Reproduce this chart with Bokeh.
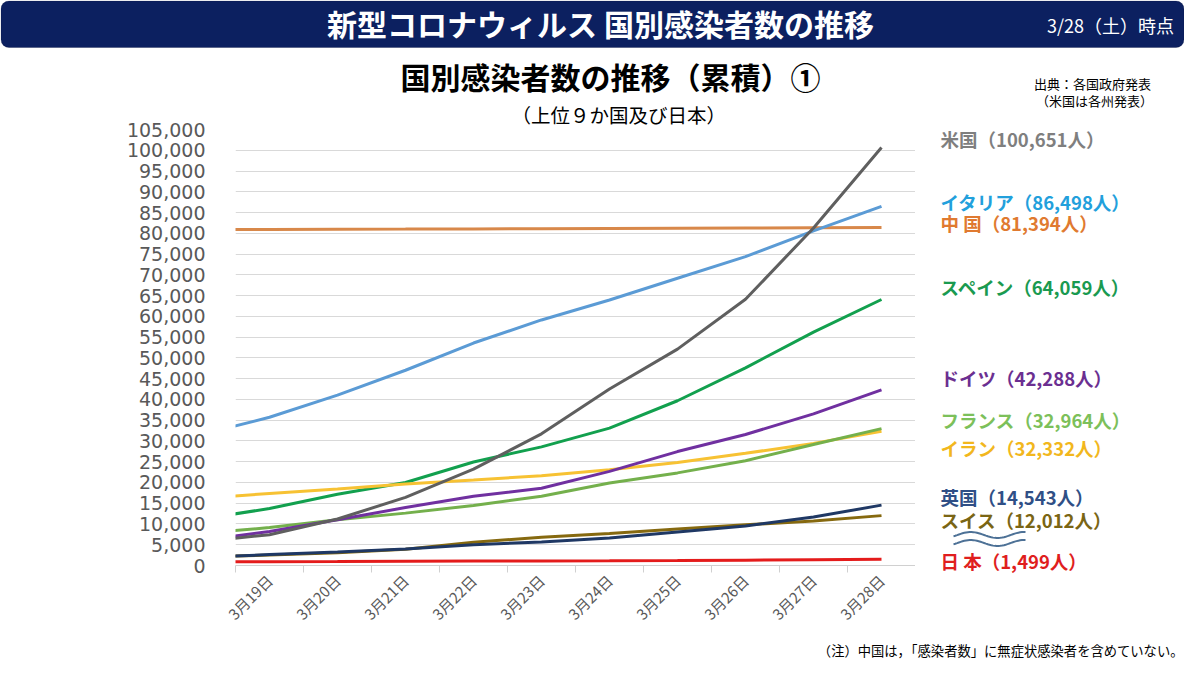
import math
from bokeh.plotting import figure
from bokeh.layouts import column, row
from bokeh.models import (Range1d, FixedTicker, NumeralTickFormatter, Label, BoxAnnotation,
                          Title)
from bokeh.embed import file_html
from bokeh.resources import INLINE

# ---------------- data ----------------
dates = ["3月18日", "3月19日", "3月20日", "3月21日", "3月22日", "3月23日",
         "3月24日", "3月25日", "3月26日", "3月27日", "3月28日"]
day_index = list(range(-1, 10))

us      = [5800, 7400, 11200, 16400, 23200, 31700, 42500, 52100, 64100, 81300, 100651]
italy   = [31506, 35713, 41035, 47021, 53578, 59138, 63927, 69176, 74386, 80589, 86498]
china   = [80894, 80928, 80967, 81008, 81054, 81093, 81171, 81218, 81285, 81340, 81394]
spain   = [11178, 13716, 17147, 19980, 24926, 28572, 33089, 39673, 47610, 56188, 64059]
germany = [6012, 8198, 10999, 13957, 16662, 18610, 22672, 27436, 31554, 36508, 42288]
france  = [7730, 9134, 10995, 12612, 14459, 16689, 19856, 22302, 25233, 29155, 32964]
iran    = [16169, 17361, 18407, 19644, 20610, 21638, 23049, 24811, 27017, 29406, 32332]
uk      = [1950, 2626, 3269, 3983, 5018, 5683, 6650, 8077, 9529, 11658, 14543]
swiss   = [2100, 2500, 3100, 3900, 5600, 6800, 7700, 8800, 9800, 10700, 12012]
japan   = [889, 924, 963, 1007, 1055, 1089, 1128, 1193, 1291, 1387, 1499]

series = [
    ("中 国", china, "#d8884a", "#e07a30"),
    ("イタリア", italy, "#5b9bd5", "#22a0dc"),
    ("スペイン", spain, "#12a04e", "#1a9a50"),
    ("イラン", iran, "#f7c233", "#f2b71d"),
    ("フランス", france, "#74b04c", "#7cc05a"),
    ("ドイツ", germany, "#7030a0", "#6b2f91"),
    ("スイス", swiss, "#86690f", "#7a6514"),
    ("英国", uk, "#1f3864", "#2f4f86"),
    ("日 本", japan, "#e41b1b", "#e01e1e"),
    ("米国", us, "#5f5f5f", "#7f7f7f"),
]
label_y = {"米国": 138, "イタリア": 201, "中 国": 222, "スペイン": 286, "ドイツ": 377,
           "フランス": 419, "イラン": 447, "英国": 496, "スイス": 519, "日 本": 560}

JP = "Noto Sans CJK JP"
TOTAL_W = 1184
MAIN_W = 915
RIGHT_W = TOTAL_W - MAIN_W
HEAD_H = 48
TR_BOTTOM = 112
BODY_BOTTOM = 640
BOT_H = 19
BAR = "#0c2060"


def blank(w, x0, x1, y0, y1):
    f = figure(width=w, height=y1 - y0, output_backend="svg", toolbar_location=None,
               x_range=Range1d(x0, x1), y_range=Range1d(y1, y0), title=None,
               min_border=0, frame_align=False)
    f.axis.visible = False
    f.grid.visible = False
    f.outline_line_color = None
    f.background_fill_color = "white"
    f.border_fill_color = "white"
    return f


def txt(f, x, y, s, size, color="black", bold=False, align="center"):
    f.add_layout(Label(x=x, y=y, text=s, text_font=JP, text_font_size=size,
                       text_font_style="bold" if bold else "normal",
                       text_color=color, text_align=align, text_baseline="middle"))


# ---------------- header bar ----------------
head = blank(TOTAL_W, 0, TOTAL_W, 0, HEAD_H)
head.add_layout(BoxAnnotation(left=0.5, right=TOTAL_W - 0.5, top=0.5, bottom=HEAD_H - 1,
                              fill_color=BAR, fill_alpha=1.0,
                              line_color="#06123a", line_width=1, border_radius=8))
txt(head, 600, 22, "新型コロナウィルス 国別感染者数の推移", "30px", "white", bold=True)
txt(head, 1110, 24, "3/28（土）時点", "18px", "white")

# ---------------- source note (top right) ----------------
tr = blank(RIGHT_W, MAIN_W, TOTAL_W, HEAD_H, TR_BOTTOM)
txt(tr, 1092, 83, "出典：各国政府発表", "13px")
txt(tr, 1094, 100, "（米国は各州発表）", "13px")

# ---------------- main chart ----------------
p = figure(width=MAIN_W, height=BODY_BOTTOM - HEAD_H, output_backend="svg",
           toolbar_location=None,
           x_range=Range1d(-0.5, 9.5), y_range=Range1d(0, 105000), title=None,
           min_border_left=235, min_border_right=0,
           min_border_top=129 - HEAD_H, min_border_bottom=BODY_BOTTOM - 565,
           frame_align=False)
p.outline_line_color = None
p.background_fill_color = "white"
p.border_fill_color = "white"
p.add_layout(Title(text="（上位９か国及び日本）", align="left", offset=276,
                   text_font=JP, text_font_size="19.5px", text_font_style="normal",
                   text_color="black", standoff=1), "above")
p.add_layout(Title(text="国別感染者数の推移（累積）①", align="left", offset=165,
                   text_font=JP, text_font_size="30px", text_font_style="bold",
                   text_color="black", standoff=0), "above")

yt = list(range(0, 105001, 5000))
p.yaxis.ticker = FixedTicker(ticks=yt)
p.yaxis.formatter = NumeralTickFormatter(format="0,0")
p.yaxis.axis_line_color = None
p.yaxis.major_tick_line_color = None
p.yaxis.major_tick_out = 0
p.yaxis.major_tick_in = 0
p.yaxis.minor_tick_line_color = None
p.yaxis.major_label_text_font = "DejaVu Sans"
p.yaxis.major_label_text_font_size = "19px"
p.yaxis.major_label_text_color = "#595959"
p.yaxis.major_label_standoff = 30

p.xaxis.ticker = FixedTicker(ticks=list(range(0, 10)),
                             minor_ticks=[i - 0.5 for i in range(0, 11)])
p.xaxis.major_label_overrides = {i: dates[i + 1] for i in range(0, 10)}
p.xaxis.major_label_orientation = math.pi / 4
p.xaxis.major_label_text_font = JP
p.xaxis.major_label_text_font_size = "15px"
p.xaxis.major_label_text_color = "#595959"
p.xaxis.major_tick_line_color = None
p.xaxis.major_tick_out = 0
p.xaxis.major_tick_in = 0
p.xaxis.minor_tick_line_color = "#d0d0d0"
p.xaxis.minor_tick_in = 0
p.xaxis.minor_tick_out = 7
p.xaxis.axis_line_color = "#d0d0d0"
p.xaxis.major_label_standoff = 5

p.xgrid.grid_line_color = None
p.ygrid.ticker = FixedTicker(ticks=yt)
p.ygrid.grid_line_color = "#d9d9d9"

for name, vals, lc, tc in series:
    p.line(day_index, vals, line_color=lc, line_width=3)

# ---------------- right labels ----------------
rt = blank(RIGHT_W, MAIN_W, TOTAL_W, TR_BOTTOM, BODY_BOTTOM)
for name, vals, lc, tc in series:
    txt(rt, 940, label_y[name], f"{name}（{vals[-1]:,}人）", "18.5px", tc, bold=True,
        align="left")

# wavy "omission" mark between スイス and 日本
for off in (0, 8):
    n = 40
    xs = [953 + 72 * k / n for k in range(n + 1)]
    ys = [534.5 + off - 3 * math.sin(2 * math.pi * (k / n - 0.24) / 0.74 + math.pi / 2)
          for k in range(n + 1)]
    rt.line(xs, ys, line_color="#4d7196", line_width=2)

# ---------------- bottom note ----------------
bot = blank(TOTAL_W, 0, TOTAL_W, BODY_BOTTOM, BODY_BOTTOM + BOT_H)
txt(bot, 1183, 650, "（注）中国は，「感染者数」に無症状感染者を含めていない。", "13.3px",
    align="right")

layout = column(head, row(p, column(tr, rt)), bot)
open("out.html", "w").write(file_html(layout, INLINE))
